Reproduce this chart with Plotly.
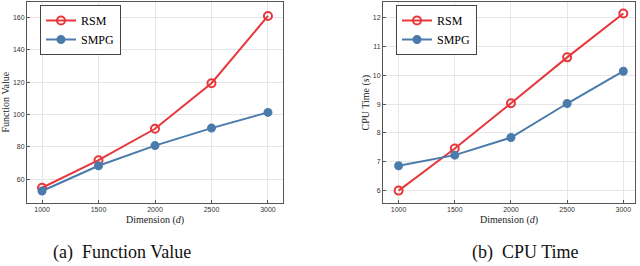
import plotly.graph_objects as go

dims = [1000, 1500, 2000, 2500, 3000]
fv_rsm = [54.8, 71.8, 91.2, 119.3, 160.8]
fv_smpg = [52.8, 68.4, 80.8, 91.6, 101.3]
cpu_rsm = [6.0, 7.46, 9.03, 10.62, 12.14]
cpu_smpg = [6.86, 7.23, 7.84, 9.02, 10.14]
fv_ticks = [60, 80, 100, 120, 140, 160]
cpu_ticks = [6, 7, 8, 9, 10, 11, 12]

RED = "#e8373c"
BLUE = "#4a7bab"

fig = go.Figure()

def add(x, y, name, color, filled, xa, ya, legend):
    fig.add_trace(go.Scatter(
        x=x, y=y, name=name, mode="lines+markers",
        line=dict(color=color, width=2),
        marker=dict(symbol="circle" if filled else "circle-open", size=7 if filled else 8,
                    color=color, line=dict(color=color, width=2)),
        xaxis=xa, yaxis=ya, legend=legend))

add(dims, fv_rsm, "RSM", RED, False, "x", "y", "legend")
add(dims, fv_smpg, "SMPG", BLUE, True, "x", "y", "legend")
add(dims, cpu_rsm, "RSM", RED, False, "x2", "y2", "legend2")
add(dims, cpu_smpg, "SMPG", BLUE, True, "x2", "y2", "legend2")

axis_common = dict(showline=True, mirror=True, linecolor="#555555", linewidth=1,
                   showgrid=True, gridcolor="#e6e6e6", gridwidth=1, zeroline=False,
                   ticks="inside", ticklen=3, tickcolor="#555555",
                   tickfont=dict(family="Liberation Sans, Arial", size=7, color="#333333"))

title_font = dict(family="Liberation Serif, serif", size=10, color="#222222")
leg_common = dict(xanchor="left", yanchor="top", bgcolor="white", bordercolor="#444444",
                  borderwidth=1, font=dict(family="Liberation Serif, serif", size=12, color="black"),
                  itemwidth=30, tracegroupgap=0)

fig.update_layout(
    width=640, height=266,
    margin=dict(l=0, r=0, t=0, b=0),
    paper_bgcolor="white", plot_bgcolor="white",
    xaxis=dict(domain=[27/640, 283/640], range=[867, 3133], tickvals=dims,
               anchor="y", **axis_common),
    yaxis=dict(domain=[1-203/266, 1-2/266], range=[45.4, 169.4], tickvals=fv_ticks,
               anchor="x", **axis_common),
    xaxis2=dict(domain=[383/640, 635/640], range=[861, 3104], tickvals=dims,
                anchor="y2", **axis_common),
    yaxis2=dict(domain=[1-203/266, 1-2/266], range=[5.57, 12.54], tickvals=cpu_ticks,
                anchor="x2", **axis_common),
    legend=dict(x=40/640, y=1-5/266, **leg_common),
    legend2=dict(x=396/640, y=1-5/266, **leg_common),
    annotations=[
        dict(text="Dimension (<i>d</i>)", x=(27+283)/2/640, y=1-220/266, xref="paper", yref="paper",
             showarrow=False, font=title_font, xanchor="center", yanchor="middle"),
        dict(text="Dimension (<i>d</i>)", x=(383+635)/2/640, y=1-220/266, xref="paper", yref="paper",
             showarrow=False, font=title_font, xanchor="center", yanchor="middle"),
        dict(text="Function Value", x=5/640, y=1-(2+203)/2/266, xref="paper", yref="paper",
             showarrow=False, font=title_font, textangle=-90, xanchor="center", yanchor="middle"),
        dict(text="CPU Time (<i>s</i>)", x=365/640, y=1-(2+203)/2/266, xref="paper", yref="paper",
             showarrow=False, font=title_font, textangle=-90, xanchor="center", yanchor="middle"),
        dict(text="(a)  Function Value", x=122/640, y=1-252/266, xref="paper", yref="paper",
             showarrow=False, font=dict(family="Liberation Serif, serif", size=18, color="#111111"),
             xanchor="center", yanchor="middle"),
        dict(text="(b)  CPU Time", x=525/640, y=1-252/266, xref="paper", yref="paper",
             showarrow=False, font=dict(family="Liberation Serif, serif", size=18, color="#111111"),
             xanchor="center", yanchor="middle"),
    ],
)

fig.write_html("out.html", config={"displayModeBar": False},
               post_script="document.body.style.margin='0';document.body.style.overflow='hidden';")
